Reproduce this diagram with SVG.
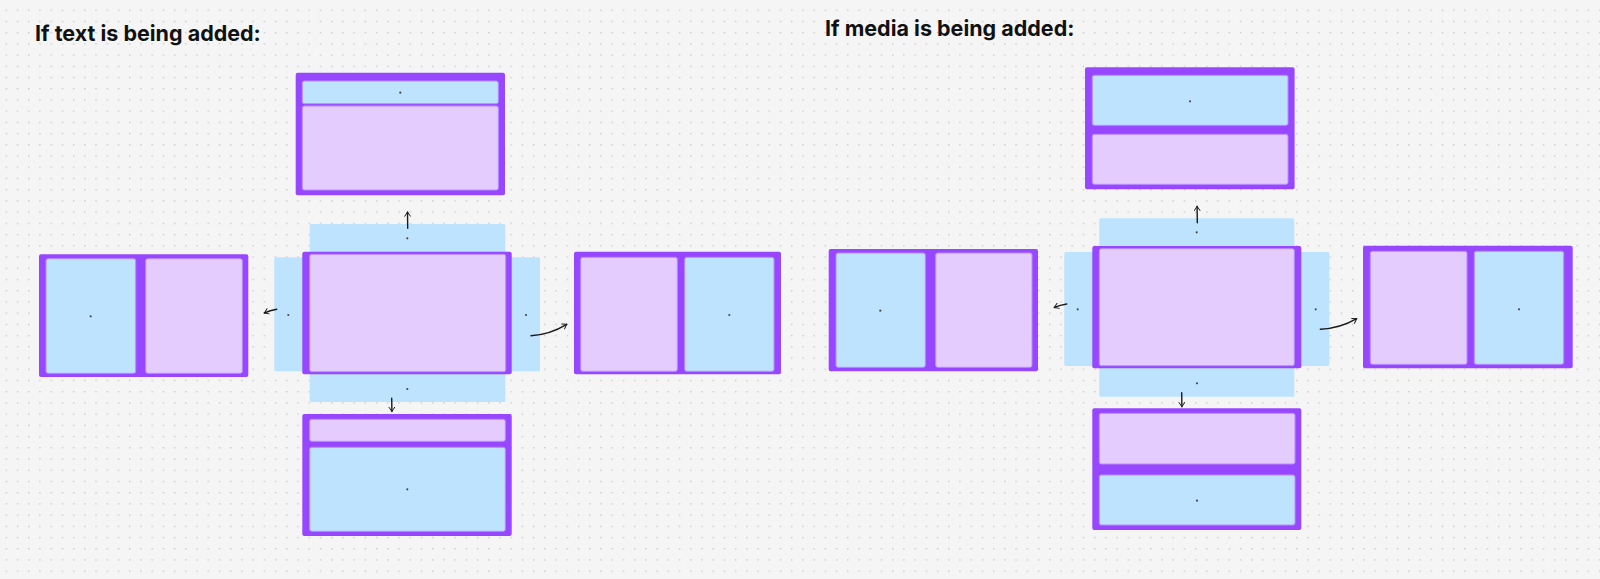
<svg xmlns="http://www.w3.org/2000/svg" width="1600" height="579" viewBox="0 0 1600 579">
<defs>
<pattern id="grid" x="5.6" y="9.5" width="11.22" height="11.22" patternUnits="userSpaceOnUse">
<circle cx="0.7" cy="0.7" r="0.8" fill="#c9c9c9"/>
</pattern>
<marker id="ah" viewBox="0 0 10 10" refX="7" refY="5" markerWidth="7" markerHeight="7" orient="auto" markerUnits="userSpaceOnUse">
<path d="M1,1 L7,5 L1,9" fill="none" stroke="#1a1a1a" stroke-width="1.4" stroke-linecap="round" stroke-linejoin="round"/>
</marker>
<style>
.frame{fill:#9747ff}
.lav{fill:#e4ccff;stroke:#b98cff;stroke-width:1}
.blue{fill:#bde3ff;stroke:#b98cff;stroke-width:1}
.strip{fill:#bde3ff}
.pin{fill:#4a4a4a}
.title{font-family:Inter,"Liberation Sans",sans-serif;font-weight:700;font-size:21.5px;fill:#111}
.conn{fill:none;stroke:#1a1a1a;stroke-width:1.4;stroke-linecap:round;marker-end:url(#ah)}
</style>
</defs>
<rect width="1600" height="579" fill="#f5f5f5"/>
<rect width="1600" height="579" fill="url(#grid)"/>

<text class="title" x="35" y="40.5">If text is being added:</text>
<text class="title" x="825" y="36">If media is being added:</text>

<!-- LEFT CLUSTER -->
<g id="text-center">
<rect class="strip" x="309.7" y="224" width="195.6" height="40" rx="1.5"/>
<rect class="strip" x="309.7" y="362" width="195.6" height="40" rx="1.5"/>
<rect class="strip" x="274.3" y="257.3" width="40" height="114" rx="1.5"/>
<rect class="strip" x="500" y="257.3" width="40" height="114" rx="1.5"/>
<rect class="frame" x="302.3" y="251.7" width="209.4" height="122.6" rx="2"/>
<rect class="lav" x="309.7" y="254.3" width="196" height="117.4" rx="2"/>
<circle class="pin" cx="407.3" cy="238.3" r="1.1"/>
<circle class="pin" cx="407.3" cy="389" r="1.1"/>
<circle class="pin" cx="288.3" cy="315" r="1.1"/>
<circle class="pin" cx="526" cy="315" r="1.1"/>
</g>
<g id="text-top">
<rect class="frame" x="295.7" y="72.7" width="209.3" height="122.6" rx="2"/>
<rect class="blue" x="302.3" y="81" width="196" height="22.7" rx="2"/>
<rect class="lav" x="302.3" y="106" width="196" height="84" rx="2"/>
<circle class="pin" cx="400.3" cy="92.7" r="1.1"/>
</g>
<g id="text-left">
<rect class="frame" x="39" y="254.3" width="209.3" height="122.7" rx="2"/>
<rect class="blue" x="46" y="258.7" width="89.7" height="114.6" rx="2"/>
<rect class="lav" x="145.7" y="258.7" width="96.6" height="114.6" rx="2"/>
<circle class="pin" cx="90.7" cy="316.3" r="1.1"/>
</g>
<g id="text-right">
<rect class="frame" x="574" y="251.7" width="207" height="122.6" rx="2"/>
<rect class="lav" x="580.7" y="257.3" width="96.6" height="114" rx="2"/>
<rect class="blue" x="684.7" y="257.3" width="89.3" height="114" rx="2"/>
<circle class="pin" cx="729.3" cy="315" r="1.1"/>
</g>
<g id="text-bottom">
<rect class="frame" x="302.3" y="414" width="209.4" height="122" rx="2"/>
<rect class="lav" x="309.7" y="419.3" width="195.6" height="22" rx="2"/>
<rect class="blue" x="309.7" y="447.3" width="195.6" height="84" rx="2"/>
<circle class="pin" cx="407.3" cy="489.3" r="1.1"/>
</g>

<!-- RIGHT CLUSTER -->
<g id="media-center">
<rect class="strip" x="1099.3" y="218.3" width="195" height="40" rx="1.5"/>
<rect class="strip" x="1099.3" y="356.7" width="195" height="40" rx="1.5"/>
<rect class="strip" x="1064.3" y="252" width="40" height="114" rx="1.5"/>
<rect class="strip" x="1289.3" y="252" width="40" height="114" rx="1.5"/>
<rect class="frame" x="1092.3" y="246" width="209" height="122.3" rx="2"/>
<rect class="lav" x="1099.3" y="248.7" width="195" height="117" rx="2"/>
<circle class="pin" cx="1196.7" cy="232.3" r="1.1"/>
<circle class="pin" cx="1197" cy="383.3" r="1.1"/>
<circle class="pin" cx="1077.7" cy="309.3" r="1.1"/>
<circle class="pin" cx="1315.7" cy="309.3" r="1.1"/>
</g>
<g id="media-top">
<rect class="frame" x="1085" y="67.3" width="209.6" height="122" rx="2"/>
<rect class="blue" x="1092.3" y="75.3" width="195.7" height="50" rx="2"/>
<rect class="lav" x="1092.3" y="134.3" width="195.7" height="50" rx="2"/>
<circle class="pin" cx="1190" cy="101.3" r="1.1"/>
</g>
<g id="media-left">
<rect class="frame" x="828.7" y="249" width="209.3" height="122.3" rx="2"/>
<rect class="blue" x="836" y="253" width="89.3" height="114.3" rx="2"/>
<rect class="lav" x="935.7" y="253" width="96.3" height="114.3" rx="2"/>
<circle class="pin" cx="880.3" cy="310.7" r="1.1"/>
</g>
<g id="media-right">
<rect class="frame" x="1363" y="245.7" width="209.7" height="122.6" rx="2"/>
<rect class="lav" x="1370.3" y="251.3" width="96.7" height="113" rx="2"/>
<rect class="blue" x="1474.3" y="251.3" width="89.4" height="113" rx="2"/>
<circle class="pin" cx="1519" cy="309.3" r="1.1"/>
</g>
<g id="media-bottom">
<rect class="frame" x="1092.3" y="408.3" width="209" height="121.7" rx="2"/>
<rect class="lav" x="1099.3" y="413.3" width="195.7" height="50.7" rx="2"/>
<rect class="blue" x="1099.3" y="475" width="195.7" height="50" rx="2"/>
<circle class="pin" cx="1197" cy="500.7" r="1.1"/>
</g>

<g id="connectors">
<path class="conn" d="M407.7,228.3 L407.5,212"/>
<path class="conn" d="M276.7,309.3 Q270,310.5 264.3,313"/>
<path class="conn" d="M531,335.7 Q550,334.5 566.7,324.3"/>
<path class="conn" d="M391.7,398.3 L391.9,411.5"/>
<path class="conn" d="M1197.3,222.7 L1197.1,206.3"/>
<path class="conn" d="M1066.7,304 Q1060,305 1054.3,307.5"/>
<path class="conn" d="M1320.3,329.3 Q1340,328.5 1356.7,318.7"/>
<path class="conn" d="M1181.7,392.7 L1181.9,406.7"/>
</g>
</svg>
